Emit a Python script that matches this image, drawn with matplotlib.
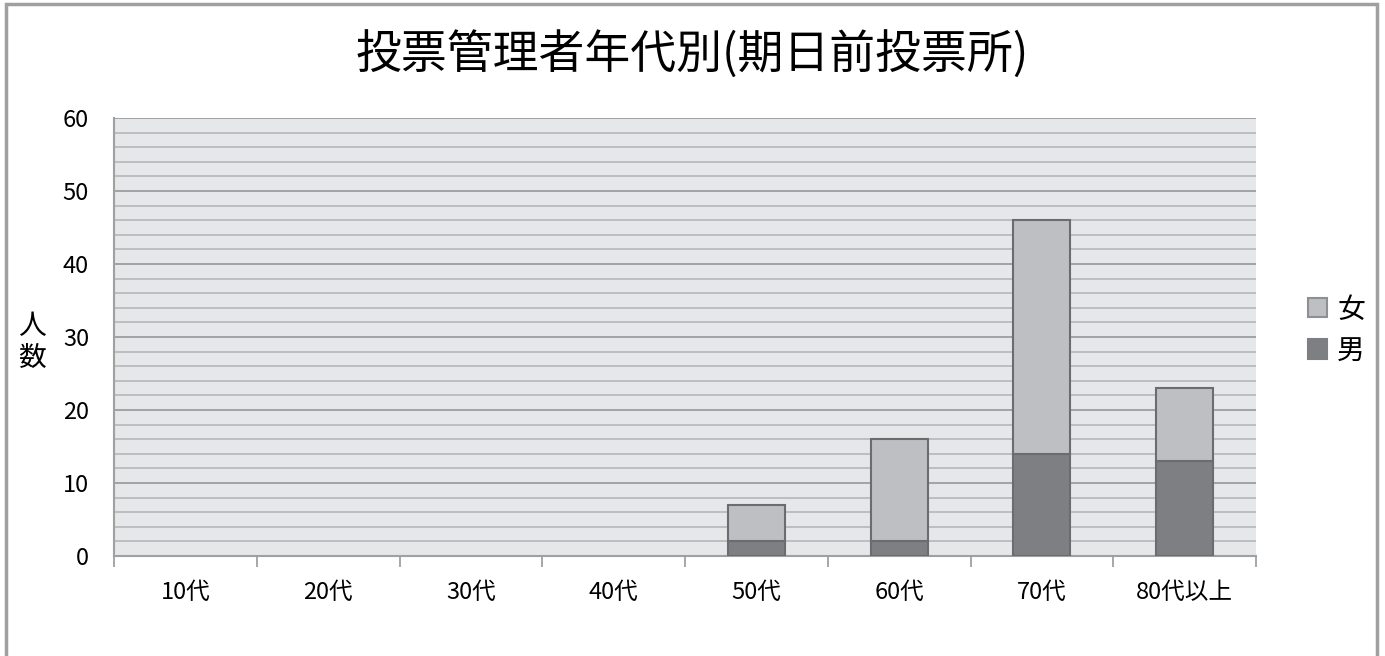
import numpy as np
import matplotlib as mpl
import matplotlib.pyplot as plt
from matplotlib.patches import Rectangle, Patch

plt.rcParams['font.family'] = ['Noto Sans CJK JP', 'DejaVu Sans']

# ------------------
# data

categories = ['10代', '20代', '30代', '40代', '50代', '60代', '70代', '80代以上']
male = [0, 0, 0, 0, 2, 2, 14, 13]
female = [0, 0, 0, 0, 5, 14, 32, 10]

c_female = '#bebfc3'
c_male = '#7e7f83'
c_edge = '#6b6c70'

fig = plt.figure(figsize=(13.85, 6.56), dpi=100)

# outer frame of the chart
fig.patches.append(Rectangle((6 / 1385, -0.05), 1371 / 1385, 1.05 - 4 / 656,
                             transform=fig.transFigure, fill=False,
                             edgecolor='#a0a0a0', lw=2.5))

left = 114 / 1385
bottom = 1 - 556 / 656
width = (1256 - 114) / 1385
height = (556 - 118) / 656

ax = fig.add_axes((left, bottom, width, height))
ax.set_facecolor('#e6e7e9')

x = np.arange(len(categories))
lw_m = [1.5 if v > 0 else 0 for v in male]
lw_f = [1.5 if v > 0 else 0 for v in female]
ax.bar(x, male, width=0.4, color=c_male, edgecolor=c_edge, linewidth=lw_m, zorder=3)
ax.bar(x, female, width=0.4, bottom=male, color=c_female, edgecolor=c_edge, linewidth=lw_f,
       zorder=3)

ax.set_xlim(-0.5, len(categories) - 0.5)
ax.set_ylim(0, 60)

ax.set_yticks(np.arange(0, 61, 10))
ax.set_yticks(np.arange(0, 61, 2), minor=True)
ax.grid(axis='y', which='major', color='#9c9da0', lw=1.3, zorder=1)
ax.grid(axis='y', which='minor', color='#b9babd', lw=1.3, zorder=1)
ax.tick_params(axis='y', which='both', length=0, labelsize=17, pad=18)

ax.set_xticks(x)
ax.set_xticklabels(categories)
ax.set_xticks(np.arange(-0.5, len(categories), 1), minor=True)
ax.tick_params(axis='x', which='major', length=0, labelsize=17, pad=18)
ax.tick_params(axis='x', which='minor', length=8, width=1.3, color='#a0a0a0', direction='out')

for s in ['top', 'right']:
    ax.spines[s].set_visible(False)
for s in ['left', 'bottom']:
    ax.spines[s].set_color('#a0a0a0')
    ax.spines[s].set_linewidth(1.5)

fig.text(32 / 1385, 1 - 342 / 656, '人\n数', fontsize=20, ha='center', va='center',
         linespacing=1.05)

fig.text(0.5, 1 - 55 / 656, '投票管理者年代別(期日前投票所)', fontsize=33,
         ha='center', va='center')

handles = [Patch(facecolor=c_female, edgecolor='#8e8f93', lw=1.5),
           Patch(facecolor=c_male, edgecolor=c_male, lw=1.5)]
ax.legend(handles, ['女', '男'], loc='center left', bbox_to_anchor=(1283 / 1385, 1 - 330 / 656),
          bbox_transform=fig.transFigure, frameon=False, fontsize=20,
          handlelength=0.7, handleheight=0.7, handletextpad=0.35, labelspacing=0.4)

fig.savefig('out.png')
